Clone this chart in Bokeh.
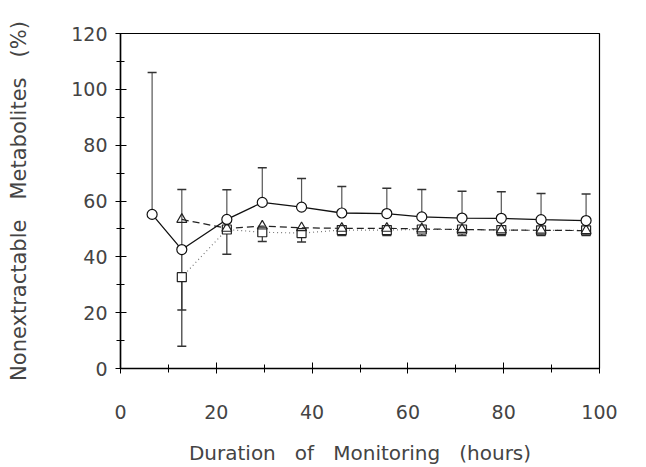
from bokeh.plotting import figure
from bokeh.models import Range1d, SingleIntervalTicker, ColumnDataSource, Whisker, TeeHead
from bokeh.embed import file_html
from bokeh.resources import INLINE

# data
hours = [6.6, 12.8, 22.2, 29.6, 37.8, 46.2, 55.6, 62.9, 71.3, 79.5, 87.8, 97.2]
circle_y = [55.2, 42.6, 53.4, 59.5, 57.8, 55.7, 55.5, 54.3, 53.9, 53.8, 53.3, 53.0]
circle_upper = [106, 64.1, 64.0, 71.9, 68.1, 65.2, 64.6, 64.1, 63.5, 63.3, 62.7, 62.5]
circle_lower_x = [12.8]
circle_lower_y = [42.6]
circle_lower = [21.0]

hours2 = [12.8, 22.2, 29.6, 37.8, 46.2, 55.6, 62.9, 71.3, 79.5, 87.8, 97.2]
triangle_y = [53.4, 50.2, 51.0, 50.4, 50.2, 50.2, 50.0, 49.8, 49.6, 49.5, 49.4]
square_y = [32.7, 49.8, 48.8, 48.5, 49.6, 49.6, 49.8, 49.8, 49.6, 49.5, 49.5]
square_lower = [8.0, 40.9, 45.5, 45.3, 47.6, 47.6, 47.6, 47.6, 47.6, 47.6, 47.6]

x_label_words = ["Duration", "of", "Monitoring", "(hours)"]
y_label_words = ["Nonextractable", "Metabolites", "(%)"]

FONT = "DejaVu Sans"
TXT = "#444444"
NB = "\u00a0"

p = figure(width=646, height=467, output_backend="svg", toolbar_location=None,
           x_range=Range1d(0, 100), y_range=Range1d(0, 120),
           min_border_left=120, min_border_right=47, min_border_top=33, min_border_bottom=99)
p.grid.visible = False
p.background_fill_color = "white"
p.border_fill_color = "white"
p.outline_line_color = "black"
p.outline_line_width = 1.2

for ax in (p.xaxis[0], p.yaxis[0]):
    ax.axis_line_color = "black"
    ax.axis_line_width = 1.5
    ax.major_tick_line_color = "black"
    ax.minor_tick_line_color = "black"
    ax.major_label_text_font = FONT
    ax.major_label_text_font_size = "19px"
    ax.major_label_text_color = TXT
    ax.axis_label_text_font = FONT
    ax.axis_label_text_font_style = "normal"
    ax.axis_label_text_color = TXT
    ax.major_tick_in = 6
    ax.major_tick_out = 5
    ax.minor_tick_in = 4
    ax.minor_tick_out = 4

p.xaxis.ticker = SingleIntervalTicker(interval=20, num_minor_ticks=2)
p.yaxis.ticker = SingleIntervalTicker(interval=20, num_minor_ticks=2)
p.xaxis.axis_label = (NB * 3).join(x_label_words)
p.yaxis.axis_label = (NB * 3).join(y_label_words)
p.xaxis.axis_label_text_font_size = "20px"
p.yaxis.axis_label_text_font_size = "21px"
p.xaxis.axis_label_text_line_height = 0.8
p.xaxis.major_label_standoff = 31
p.yaxis.major_label_standoff = 8
p.xaxis.axis_label_standoff = 19
p.yaxis.axis_label_standoff = 37

# error bars
src_c = ColumnDataSource(dict(x=hours, base=circle_y, up=circle_upper))
p.add_layout(Whisker(source=src_c, base="x", lower="base", upper="up", dimension="height",
                     line_color="#555555", line_width=1.2, lower_head=None,
                     upper_head=TeeHead(size=9, line_color="#333333", line_width=1.5)))
src_cl = ColumnDataSource(dict(x=circle_lower_x, base=circle_lower_y, lo=circle_lower))
p.add_layout(Whisker(source=src_cl, base="x", lower="lo", upper="base", dimension="height",
                     line_color="#333333", line_width=1.2, upper_head=None,
                     lower_head=TeeHead(size=9, line_color="#333333", line_width=1.5)))
src_sl = ColumnDataSource(dict(x=hours2, base=square_y, lo=square_lower))
p.add_layout(Whisker(source=src_sl, base="x", lower="lo", upper="base", dimension="height",
                     line_color="#333333", line_width=1.2, upper_head=None,
                     lower_head=TeeHead(size=9, line_color="#333333", line_width=1.5)))

# series
p.line(hours2, square_y, line_color="#777777", line_width=1.2, line_dash="1 3")
p.line(hours2, triangle_y, line_color="#222222", line_width=1.2, line_dash="7 4")
p.line(hours, circle_y, line_color="#111111", line_width=1.3)

p.scatter(hours2, square_y, marker="square", size=9, fill_color="white",
          line_color="#222222", line_width=1.2)
p.scatter(hours2, triangle_y, marker="triangle", size=10, fill_color=None,
          line_color="#222222", line_width=1.2)
p.scatter(hours, circle_y, marker="circle", size=10, fill_color="white",
          line_color="#111111", line_width=1.2)

open("out.html", "w").write(file_html(p, INLINE))
